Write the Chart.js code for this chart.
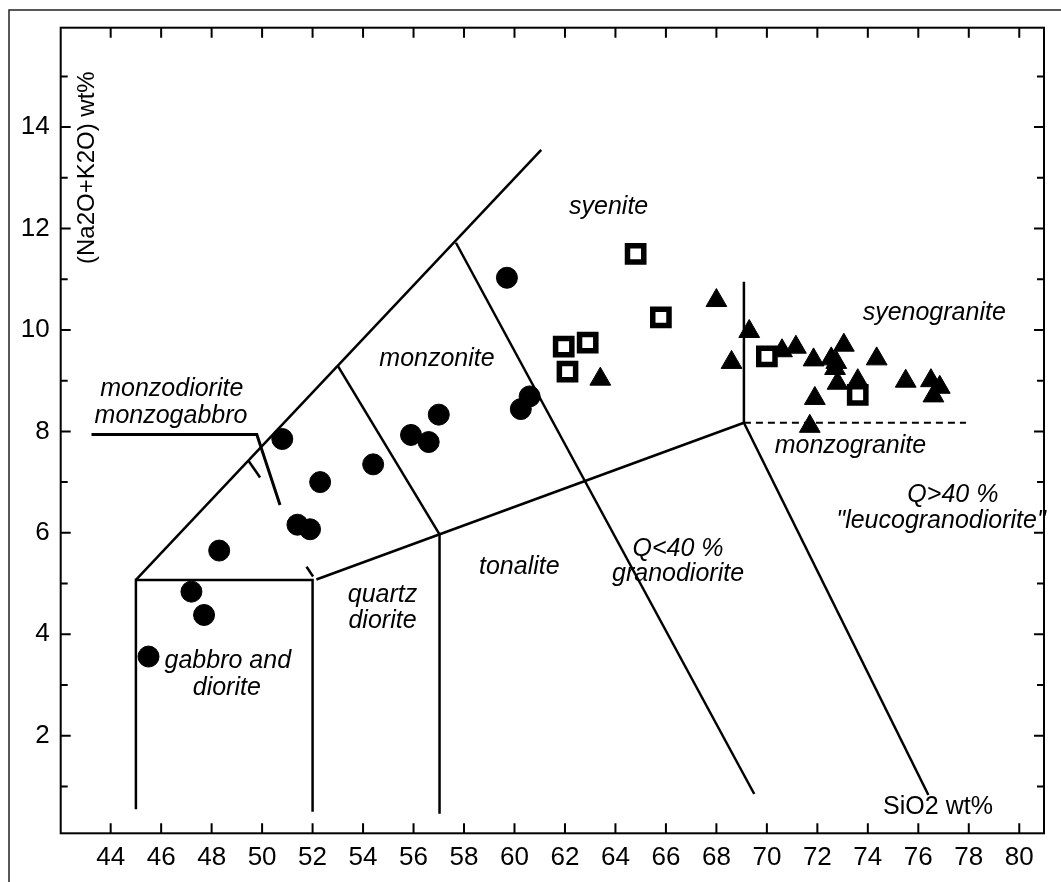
<!DOCTYPE html>
<html>
<head>
<meta charset="utf-8">
<script src="https://cdn.jsdelivr.net/npm/chart.js@4.4.1/dist/chart.umd.min.js"></script>
<style>
body{margin:0;background:#fff}
#wrap{position:relative;width:1061px;height:882px}
</style>
</head>
<body>
<div id="wrap"><canvas id="chart" width="1061" height="882"></canvas></div>
<script>
// samples (SiO2 wt%, Na2O+K2O wt%)
let circleSiO2=[45.5,47.2,47.7,48.3,51.4,51.9,52.3,50.8,54.4,55.9,56.6,57.0,60.25,60.6,59.7]
let circleAlk=[3.56,4.84,4.38,5.65,6.16,6.07,7.0,7.85,7.35,7.93,7.79,8.33,8.44,8.69,11.03]
let squareSiO2=[64.8,65.8,61.95,62.9,62.1,70.0,73.6]
let squareAlk=[11.5,10.25,9.67,9.75,9.18,9.48,8.72]
let triangleSiO2=[63.4,68.0,68.6,69.3,70.6,71.15,71.85,71.9,71.7,73.05,72.55,72.75,72.7,72.8,73.6,74.35,75.5,76.5,76.85,76.6]
let triangleAlk=[9.03,10.58,9.36,9.97,9.59,9.66,9.41,8.65,8.1,9.7,9.43,9.36,9.24,8.95,9.0,9.43,8.99,9.0,8.87,8.7]

let xTicks=[44,46,48,50,52,54,56,58,60,62,64,66,68,70,72,74,76,78,80]
let yTicks=[1,2,3,4,5,6,7,8,9,10,11,12,13,14,15]
let yLabels=[2,4,6,8,10,12,14]

// field boundaries
let gabbroField=[[45,0.55],[45,5.07],[52,5.07],[52,0.5]]
let upperLine=[[45,5.07],[61.06,13.55]]
let lowerLine=[[52.15,5.08],[69.09,8.17]]
let line57=[[57.03,5.97],[57.03,0.46]]
let monzoniteLine=[[53.0,9.29],[57.03,5.97]]
let syeniteLine=[[57.68,11.72],[69.5,0.85]]
let graniteLine=[[69.09,8.17],[69.09,10.95]]
let dashedLine=[[69.09,8.17],[77.89,8.17]]
let granodioriteLine=[[69.09,8.17],[76.4,0.83]]
let leaderLine=[[43.24,7.94],[49.79,7.94],[50.71,6.55]]
let smallMark=[[49.46,7.42],[49.92,7.09]]
let kinkMark=[[51.76,5.33],[52.02,5.14]]

let fieldNames=[
["syenite",63.73,12.29],
["syenogranite",76.63,10.2],
["monzonite",56.93,9.28],
["monzodiorite",46.42,8.69],
["monzogabbro",46.39,8.16],
["monzogranite",73.31,7.57],
["Q>40 %",77.37,6.61],
["\"leucogranodiorite\"",76.9,6.1],
["tonalite",60.19,5.19],
["Q<40 %",66.48,5.54],
["granodiorite",66.48,5.05],
["quartz",54.77,4.64],
["diorite",54.77,4.12],
["gabbro and",48.64,3.33],
["diorite",48.6,2.8]
]

function pts(a){return a.map(p=>({x:p[0],y:p[1]}))}
function zip(xs,ys){return xs.map((v,i)=>({x:v,y:ys[i]}))}
function lineSet(a,dash){
return {data:pts(a),showLine:true,pointRadius:0,borderColor:"#000",borderWidth:2.5,borderDash:dash||[],fill:false}
}

let decor={
id:"decor",
beforeDraw(c){
let ctx=c.ctx
ctx.save()
ctx.strokeStyle="#222"
ctx.lineWidth=1.5
ctx.beginPath()
ctx.moveTo(9,882)
ctx.lineTo(9,10)
ctx.lineTo(1061,10)
ctx.stroke()
ctx.restore()
},
afterDatasetsDraw(c){
let ctx=c.ctx
let a=c.chartArea
let xs=c.scales.x, ys=c.scales.y
ctx.save()
ctx.strokeStyle="#000"
ctx.lineWidth=2
ctx.strokeRect(a.left,a.top,a.right-a.left,a.bottom-a.top)
ctx.beginPath()
xTicks.forEach(v=>{
let px=xs.getPixelForValue(v)
ctx.moveTo(px,a.bottom);ctx.lineTo(px,a.bottom-10)
ctx.moveTo(px,a.top);ctx.lineTo(px,a.top+10)
})
yTicks.forEach(v=>{
let py=ys.getPixelForValue(v)
let len=yLabels.includes(v)?10:7
ctx.moveTo(a.left,py);ctx.lineTo(a.left+len,py)
ctx.moveTo(a.right,py);ctx.lineTo(a.right-len,py)
})
ctx.stroke()

ctx.fillStyle="#000"
ctx.textAlign="center"
ctx.textBaseline="alphabetic"
ctx.font="italic 25px 'Liberation Sans', Arial, sans-serif"
fieldNames.forEach(f=>{
ctx.fillText(f[0],xs.getPixelForValue(f[1]),ys.getPixelForValue(f[2]))
})
ctx.font="25px 'Liberation Sans', Arial, sans-serif"
ctx.fillText("SiO2 wt%",xs.getPixelForValue(76.78),ys.getPixelForValue(0.45))
ctx.translate(xs.getPixelForValue(43.06),ys.getPixelForValue(13.2))
ctx.rotate(-Math.PI/2)
ctx.textBaseline="middle"
ctx.font="24px 'Liberation Sans', Arial, sans-serif"
ctx.fillText("(Na2O+K2O) wt%",0,0)
ctx.restore()
}
}

let ctx=document.getElementById("chart").getContext("2d")

let chart=new Chart(ctx,{
type:"scatter",
data:{
datasets:[
lineSet(gabbroField),
lineSet(upperLine),
lineSet(lowerLine),
lineSet(line57),
lineSet(monzoniteLine),
lineSet(syeniteLine),
lineSet(graniteLine),
Object.assign(lineSet(dashedLine,[7,5]),{borderWidth:2}),
lineSet(granodioriteLine),
Object.assign(lineSet(leaderLine),{borderWidth:3}),
lineSet(smallMark),
lineSet(kinkMark),
{data:zip(circleSiO2,circleAlk),pointStyle:"circle",pointRadius:10.5,backgroundColor:"#000",borderColor:"#000",borderWidth:1},
{data:zip(squareSiO2,squareAlk),pointStyle:"rect",pointRadius:11.5,backgroundColor:"#fff",borderColor:"#000",borderWidth:5.5},
{data:zip(triangleSiO2,triangleAlk),pointStyle:"triangle",pointRadius:12,backgroundColor:"#000",borderColor:"#000",borderWidth:1}
]
},
options:{
responsive:false,
devicePixelRatio:1,
animation:false,
layout:{padding:{top:27.7,right:9.3,left:0,bottom:0}},
plugins:{legend:{display:false},tooltip:{enabled:false}},
scales:{
x:{
type:"linear",min:42.02,max:80.98,
afterBuildTicks(s){s.ticks=xTicks.map(v=>({value:v}))},
afterFit(s){s.height=48.7},
grid:{display:false,drawTicks:false},
border:{display:false},
ticks:{color:"#000",padding:9,maxRotation:0,autoSkip:false,font:{family:"'Liberation Sans', Arial, sans-serif",size:26}}
},
y:{
type:"linear",min:0.075,max:15.96,
afterBuildTicks(s){s.ticks=yTicks.map(v=>({value:v}))},
afterFit(s){s.width=60.7},
grid:{display:false,drawTicks:false},
border:{display:false},
ticks:{color:"#000",padding:11,autoSkip:false,font:{family:"'Liberation Sans', Arial, sans-serif",size:26},
callback:v=>yLabels.includes(v)?v:""}
}
}
},
plugins:[decor]
})
</script>
</body>
</html>
